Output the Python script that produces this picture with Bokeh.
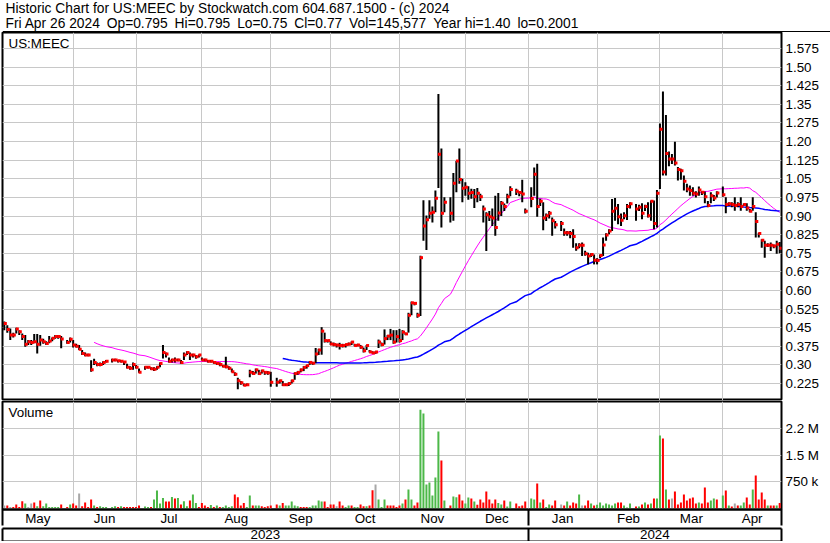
import numpy as np
import pandas as pd
from bokeh.plotting import figure
from bokeh.layouts import column
from bokeh.models import (Range1d, FixedTicker, LinearAxis, Label, Span,
                          NumeralTickFormatter, ColumnDataSource)
from bokeh.embed import file_html
from bokeh.resources import INLINE

FONT = "Liberation Sans"

# ---------------- data ----------------
start_date = "2023-05-01"
end_date = "2024-04-26"
month_names = ["May", "Jun", "Jul", "Aug", "Sep", "Oct", "Nov", "Dec",
               "Jan", "Feb", "Mar", "Apr"]
year_names = ["2023", "2024"]
header1 = "Historic Chart for US:MEEC by Stockwatch.com 604.687.1500 - (c) 2024"
header2 = ("Fri Apr 26 2024\u2002Op=0.795\u2002Hi=0.795\u2002Lo=0.75\u2002Cl=0.77\u2002"
           "Vol=145,577\u2002Year hi=1.40\u2002lo=0.2001")

close = [
    0.467, 0.443, 0.42, 0.42, 0.445, 0.434, 0.414, 0.383, 0.393, 0.39,
    0.393, 0.383, 0.40, 0.393, 0.386, 0.396, 0.407, 0.414, 0.414, 0.404,
    None, 0.39, 0.403, 0.38, 0.375, 0.363, 0.346, 0.34, 0.34, 0.28,
    0.31, 0.302, 0.302, 0.31, 0.315, None, 0.32, 0.32, 0.317, 0.315,
    0.312, 0.29, 0.286, 0.302, 0.29, 0.27, None, 0.29, 0.29, 0.284,
    0.282, 0.29, 0.306, 0.35, 0.344, 0.315, 0.32, 0.32, 0.32, 0.31,
    0.34, 0.35, 0.34, 0.34, 0.333, 0.34, 0.32, 0.32, 0.315, 0.315,
    0.31, 0.306, 0.302, 0.295, 0.293, 0.286, 0.272, 0.262, 0.236, 0.228,
    0.218, 0.22, 0.27, 0.265, 0.28, 0.265, 0.276, 0.27, 0.268, 0.23,
    None, 0.23, 0.236, 0.22, 0.22, 0.225, 0.236, 0.265, 0.27, 0.28,
    0.29, 0.297, 0.31, 0.307, 0.344, 0.36, 0.436, 0.398, 0.398, 0.384,
    0.382, 0.38, 0.378, 0.378, 0.382, 0.384, 0.392, 0.378, 0.38, 0.371,
    0.357, 0.378, 0.352, 0.348, 0.352, 0.392, 0.382, 0.406, 0.416, 0.42,
    0.392, 0.414, 0.398, 0.432, 0.425, 0.50, 0.55, 0.548, 0.50, 0.732,
    0.86, 0.885, 0.911, 0.915, 0.972, 1.149, 0.911, 0.955, None, 0.911,
    1.032, 1.122, 1.047, 1.012, 1.016, 0.992, 0.995, 0.978, 0.992, 0.978,
    0.928, 0.905, 0.897, 0.892, 0.854, 0.912, 0.951, 0.938, 0.978, 1.007,
    None, 1.0, 0.995, 0.989, 0.919, None, 0.971, 1.068, 0.938, 0.959,
    0.892, 0.901, 0.911, 0.881, 0.865, None, 0.87, 0.833, 0.833, 0.829,
    0.817, 0.772, 0.782, 0.782, 0.748, 0.739, 0.745, 0.722, 0.721, 0.741,
    0.783, 0.823, 0.84, 0.919, 0.931, 0.897, 0.883, 0.901, 0.938, 0.949,
    None, 0.928, 0.935, 0.911, 0.938, 0.901, 0.959, 0.87, 0.992, 1.25,
    1.077, 1.152, 1.13, 1.13, 1.114, 1.087, 1.082, 1.04, 1.009, 1.003,
    0.992, 0.989, 1.005, 0.996, 0.978, 0.942, 0.982, 0.973, 0.993, None,
    0.986, 0.946, 0.949, 0.946, 0.942, 0.946, 0.938, 0.946, 0.932, 0.919,
    0.938, 0.878, 0.829, 0.802, 0.782, 0.782, 0.782, 0.779, 0.786, 0.77,
]

high = [
    0.475, 0.46, 0.447, 0.43, 0.45, 0.44, 0.427, 0.42, 0.40, 0.40,
    0.424, 0.424, 0.42, 0.405, 0.395, 0.416, 0.41, 0.42, 0.42, 0.416,
    None, 0.40, 0.41, 0.40, 0.385, 0.38, 0.36, 0.35, 0.345, 0.319,
    0.325, 0.31, 0.31, 0.315, 0.32, None, 0.325, 0.325, 0.32, 0.32,
    0.315, 0.305, 0.295, 0.31, 0.30, 0.285, None, 0.295, 0.295, 0.29,
    0.29, 0.295, 0.31, 0.38, 0.35, 0.33, 0.325, 0.33, 0.325, 0.32,
    0.35, 0.355, 0.35, 0.345, 0.34, 0.342, 0.33, 0.325, 0.32, 0.32,
    0.315, 0.31, 0.31, 0.30, 0.333, 0.295, 0.285, 0.27, 0.248, 0.235,
    0.225, 0.225, 0.28, 0.275, 0.285, 0.28, 0.28, 0.275, 0.275, 0.272,
    None, 0.248, 0.24, 0.235, 0.225, 0.23, 0.24, 0.27, 0.275, 0.285,
    0.295, 0.30, 0.315, 0.31, 0.368, 0.365, 0.452, 0.43, 0.40, 0.395,
    0.39, 0.385, 0.389, 0.385, 0.385, 0.39, 0.395, 0.385, 0.385, 0.38,
    0.37, 0.38, 0.36, 0.355, 0.355, 0.402, 0.39, 0.443, 0.42, 0.445,
    0.44, 0.44, 0.445, 0.44, 0.43, 0.51, 0.555, 0.55, 0.51, 0.74,
    0.963, 0.902, 0.963, 0.938, 1.003, 1.392, 1.172, 0.976, None, 0.976,
    1.073, 1.122, 1.172, 1.05, 1.036, 1.02, 1.01, 1.009, 1.013, 0.99,
    0.942, 0.915, 0.92, 0.93, 0.982, 0.993, 0.96, 0.95, 0.99, 1.02,
    None, 1.01, 1.0, 1.046, 0.93, None, 1.016, 1.095, 1.111, 0.97,
    0.955, 0.91, 0.92, 0.894, 0.88, None, 0.88, 0.85, 0.84, 0.84,
    0.847, 0.79, 0.79, 0.793, 0.76, 0.752, 0.75, 0.745, 0.73, 0.745,
    0.813, 0.83, 0.847, 0.969, 0.973, 0.948, 0.91, 0.915, 0.948, 0.955,
    None, 0.948, 0.945, 0.951, 0.945, 0.955, 0.962, 0.962, 1.005, 1.273,
    1.402, 1.307, 1.16, 1.15, 1.199, 1.097, 1.09, 1.063, 1.03, 1.023,
    1.016, 1.0, 1.019, 1.0, 0.999, 0.96, 0.996, 0.985, 1.0, None,
    1.019, 0.976, 0.955, 0.955, 0.976, 0.955, 0.976, 0.95, 0.951, 0.928,
    0.976, 0.915, 0.833, 0.806, 0.80, 0.79, 0.793, 0.785, 0.80, 0.795,
]

low = [
    0.44, 0.43, 0.40, 0.41, 0.427, 0.42, 0.40, 0.373, 0.38, 0.38,
    0.387, 0.346, 0.377, 0.385, 0.38, 0.387, 0.395, 0.405, 0.405, 0.367,
    None, 0.385, 0.39, 0.37, 0.37, 0.36, 0.34, 0.335, 0.335, 0.272,
    0.30, 0.295, 0.295, 0.30, 0.31, None, 0.31, 0.315, 0.31, 0.31,
    0.30, 0.285, 0.28, 0.28, 0.285, 0.268, None, 0.28, 0.285, 0.28,
    0.275, 0.28, 0.29, 0.326, 0.33, 0.31, 0.31, 0.31, 0.315, 0.305,
    0.32, 0.34, 0.32, 0.33, 0.325, 0.33, 0.318, 0.315, 0.31, 0.31,
    0.305, 0.30, 0.295, 0.29, 0.286, 0.28, 0.27, 0.255, 0.202, 0.22,
    0.215, 0.215, 0.25, 0.26, 0.265, 0.26, 0.265, 0.26, 0.26, 0.212,
    None, 0.212, 0.225, 0.215, 0.215, 0.215, 0.225, 0.24, 0.26, 0.27,
    0.275, 0.285, 0.30, 0.30, 0.307, 0.34, 0.341, 0.39, 0.39, 0.38,
    0.375, 0.37, 0.362, 0.37, 0.37, 0.378, 0.38, 0.375, 0.375, 0.365,
    0.35, 0.36, 0.35, 0.345, 0.345, 0.368, 0.375, 0.382, 0.40, 0.40,
    0.385, 0.39, 0.39, 0.40, 0.42, 0.43, 0.50, 0.54, 0.49, 0.497,
    0.80, 0.763, 0.889, 0.874, 0.915, 1.013, 0.854, 0.915, None, 0.874,
    0.881, 0.996, 1.03, 0.955, 0.982, 0.965, 0.97, 0.932, 0.955, 0.96,
    0.874, 0.759, 0.88, 0.86, 0.82, 0.881, 0.90, 0.92, 0.95, 0.98,
    None, 0.985, 0.98, 0.955, 0.91, None, 0.935, 0.982, 0.897, 0.94,
    0.843, 0.88, 0.89, 0.82, 0.85, None, 0.84, 0.82, 0.82, 0.81,
    0.772, 0.76, 0.77, 0.739, 0.74, 0.705, 0.735, 0.705, 0.705, 0.73,
    0.739, 0.80, 0.826, 0.84, 0.881, 0.867, 0.86, 0.887, 0.884, 0.93,
    None, 0.881, 0.92, 0.887, 0.92, 0.894, 0.881, 0.847, 0.854, 1.009,
    1.063, 1.063, 1.10, 1.11, 1.104, 1.043, 1.046, 1.003, 0.996, 0.982,
    0.982, 0.975, 0.982, 0.985, 0.951, 0.935, 0.951, 0.96, 0.975, None,
    0.978, 0.911, 0.94, 0.935, 0.921, 0.935, 0.921, 0.94, 0.921, 0.915,
    0.921, 0.813, 0.813, 0.772, 0.732, 0.775, 0.759, 0.77, 0.748, 0.75,
]

# volume in thousands of shares
volume_k = [
    75, 75, 38, 38, 104, 38, 198, 132, 38, 132,
    160, 57, 217, 57, 132, 38, 38, 38, 38, 104,
    None, 38, 104, 132, 75, 415, 57, 160, 38, 245,
    75, 38, 57, 38, 38, None, 38, 57, 38, 57,
    38, 38, 38, 38, 38, 75, None, 47, 38, 38,
    245, 500, 132, 292, 189, 189, 320, 273, 292, 104,
    198, 57, 217, 387, 150, 38, 150, 75, 38, 94,
    38, 75, 38, 38, 75, 38, 57, 387, 311, 75,
    150, 38, 358, 75, 75, 75, 57, 38, 57, 75,
    None, 104, 75, 150, 75, 75, 189, 75, 57, 38,
    38, 38, 38, 75, 75, 217, 189, 189, 38, 104,
    104, 57, 189, 75, 38, 75, 75, 38, 38, 104,
    57, 57, 75, 510, 670, 245, 38, 245, 75, 75,
    75, 38, 75, 132, 245, 528, 245, 75, 160, 2790,
    2680, 670, 726, 358, 868, 2170, 1350, 217, None, 75,
    330, 311, 387, 217, 132, 302, 273, 189, 100, 245,
    160, 472, 245, 132, 245, 150, 104, 217, 47, 189,
    None, 132, 57, 75, 189, None, 273, 245, 698, 160,
    245, 38, 104, 75, 217, None, 104, 75, 189, 75,
    160, 132, 387, 75, 75, 217, 132, 75, 100, 160,
    75, 132, 104, 75, 132, 160, 160, 75, 19, 132,
    None, 47, 47, 104, 160, 104, 132, 273, 273, 2056,
    1971, 528, 245, 273, 472, 104, 160, 387, 217, 273,
    302, 132, 160, 132, 585, 160, 217, 273, 245, None,
    358, 500, 75, 47, 132, 75, 75, 160, 302, 104,
    528, 924, 245, 443, 245, 75, 75, 75, 75, 146,
]

# g = up day, r = down day, n = unchanged, - = holiday
vol_dir = list(
    "nrnrrrrgnn" "rgrggggggr" "-rgrrnrrrr" "grggg-ggrg" "rrrrrr-ggr"
    "ggggrrgrgr" "ggrggrrrrg" "rgrggggrrr" "rggrggrrrr" "-rgrgggggr"
    "rrgggggrrr" "rnrrggrggr" "rgrrngggrr" "rrrgrggrrg" "ggggggrg-r"
    "ggrrggrgrr" "rrrrrggrgg" "-rrrr-ggrg" "rggrr-nrgr" "rrgnrrgrgg"
    "gggggrrggg" "-rgrgrgrgg" "rgrnrrrrrr" "rrgrrrggr-" "grgrnrggrr"
    "grrrrgrrgr"
)

price_ticks = [0.225, 0.30, 0.375, 0.45, 0.525, 0.60, 0.675, 0.75, 0.825,
               0.90, 0.975, 1.05, 1.125, 1.20, 1.275, 1.35, 1.425, 1.50, 1.575]
vol_ticks = [750, 1500, 2250]
vol_tick_labels = ["750 k", "1.5 M", "2.2 M"]
ma_short, ma_long = 30, 90

# ---------------- derived positions ----------------
dates = pd.bdate_range(start_date, end_date)
n = len(dates)
idx = np.arange(n)
df = pd.DataFrame({"i": idx, "close": close, "high": high, "low": low,
                   "vol": volume_k, "dir": vol_dir}, dtype=object)
df = df[df["close"].notna()].copy()
for c in ["close", "high", "low", "vol"]:
    df[c] = df[c].astype(float)
df["i"] = df["i"].astype(float)
colors = {"g": "#4cb848", "r": "#ff0000", "n": "#a8a8a8"}
df["color"] = df["dir"].map(colors)
df["ma_s"] = df["close"].rolling(ma_short).mean()
df["ma_l"] = df["close"].rolling(ma_long).mean()
df["it"] = df["i"] + 0.35

x0, x1 = -0.6, n - 0.4
start_np = np.datetime64(start_date)
grid_pos = []
for d in pd.date_range(dates[0] + pd.offsets.MonthBegin(1), dates[-1], freq="MS"):
    rolled = np.busday_offset(np.datetime64(d.date()), 0, roll="backward")
    grid_pos.append(float(np.busday_count(start_np, rolled)))
bounds = [x0] + grid_pos + [x1]
month_centers = [(bounds[k] + bounds[k + 1]) / 2 for k in range(len(bounds) - 1)]
jan_pos = grid_pos[month_names.index("Jan") - 1]
year_centers = [(x0 + jan_pos) / 2, (jan_pos + x1) / 2]

src = ColumnDataSource(df)
ma_s_src = ColumnDataSource(df[df["ma_s"].notna()])
ma_l_src = ColumnDataSource(df[df["ma_l"].notna()])

FW = 779
FHP = 368
FHV = 108
HEAD = 32
GRID = "#c8c8c8"
FS = "13.4px"
FS_HEAD = "13.8px"
xr = Range1d(x0, x1)


def style_right_axis(ax):
    ax.axis_line_color = None
    ax.major_tick_line_color = None
    ax.minor_tick_line_color = None
    ax.major_tick_out = 0
    ax.major_tick_in = 0
    ax.minor_tick_out = 0
    ax.minor_tick_in = 0
    ax.major_label_standoff = 4
    ax.major_label_text_font = FONT
    ax.major_label_text_font_size = FS
    ax.major_label_text_color = "black"


# ---------------- header ----------------
h = figure(frame_width=830, frame_height=HEAD, x_range=Range1d(0, 1),
           y_range=Range1d(0, HEAD), output_backend="svg", toolbar_location=None,
           x_axis_location=None, y_axis_location=None, min_border=0,
           outline_line_color=None, background_fill_color="white",
           border_fill_color="white")
h.grid.visible = False
h.add_layout(Span(location=0.5, dimension="width", line_color="black",
                  line_width=2))
for txt, ytop in [(header1, HEAD), (header2, HEAD - 15)]:
    h.add_layout(Label(x=3, y=ytop, x_units="screen", y_units="screen",
                       text=txt, text_baseline="top", text_font=FONT,
                       text_font_size=FS_HEAD, text_color="black"))

# ---------------- price panel ----------------
p = figure(frame_width=FW, frame_height=FHP, x_range=xr,
           y_range=Range1d(0.1565, 1.6395), output_backend="svg",
           toolbar_location=None, x_axis_location=None, y_axis_location="right",
           min_border_left=2, min_border_right=49, min_border_top=0,
           min_border_bottom=0, background_fill_color="white",
           border_fill_color="white")
p.outline_line_color = "black"
p.outline_line_width = 2
p.xgrid.ticker = FixedTicker(ticks=grid_pos)
p.xgrid.grid_line_color = GRID
p.ygrid.grid_line_color = GRID
ya = p.yaxis[0]
ya.ticker = FixedTicker(ticks=price_ticks)
ya.formatter = NumeralTickFormatter(format="0.00[0]")
style_right_axis(ya)

p.line("i", "ma_s", source=ma_s_src, line_color="#ff00ff", line_width=1)
p.line("i", "ma_l", source=ma_l_src, line_color="#0000ff", line_width=1.5)
p.segment(x0="i", y0="low", x1="i", y1="high", source=src,
          line_color="black", line_width=2)
p.rect(x="it", y="close", width=3, height=3, width_units="screen",
       height_units="screen", source=src, fill_color="#ff0000", line_color=None)
p.add_layout(Label(x=6, y=FHP - 3, x_units="screen", y_units="screen",
                   text="US:MEEC", text_baseline="top", text_font=FONT,
                   text_font_size=FS, text_color="black"))

# ---------------- volume panel ----------------
v = figure(frame_width=FW, frame_height=FHV, x_range=xr,
           y_range=Range1d(-35, 3020), output_backend="svg",
           toolbar_location=None, x_axis_location=None, y_axis_location="right",
           min_border_left=2, min_border_right=49, min_border_top=1,
           min_border_bottom=0, background_fill_color="white",
           border_fill_color="white")
v.outline_line_color = "black"
v.outline_line_width = 2
v.xgrid.ticker = FixedTicker(ticks=grid_pos)
v.xgrid.grid_line_color = GRID
v.ygrid.grid_line_color = GRID
vy = v.yaxis[0]
vy.ticker = FixedTicker(ticks=vol_ticks)
vy.major_label_overrides = dict(zip(vol_ticks, vol_tick_labels))
style_right_axis(vy)
v.vbar(x="i", top="vol", bottom=0, width=0.67, source=src,
       fill_color="color", line_color=None)
v.add_layout(Label(x=6, y=FHV - 3, x_units="screen", y_units="screen",
                   text="Volume", text_baseline="top", text_font=FONT,
                   text_font_size=FS, text_color="black"))


def row_axis(ticks, labels):
    ax = LinearAxis(ticker=FixedTicker(ticks=ticks, minor_ticks=[x0, jan_pos, x1]))
    ax.major_label_overrides = dict(zip(ticks, labels))
    ax.major_tick_out = 0
    ax.major_tick_in = 0
    ax.major_tick_line_color = None
    ax.minor_tick_in = 0
    ax.minor_tick_out = 16
    ax.minor_tick_line_color = "black"
    ax.minor_tick_line_width = 2
    ax.axis_line_color = "black"
    ax.axis_line_width = 2
    ax.major_label_standoff = -15
    ax.major_label_text_font = FONT
    ax.major_label_text_font_size = FS
    ax.major_label_text_color = "black"
    return ax


v.add_layout(row_axis(month_centers, month_names), "below")
v.add_layout(row_axis(year_centers, year_names), "below")
bottom_ax = LinearAxis(ticker=FixedTicker(ticks=[]))
bottom_ax.major_tick_out = 0
bottom_ax.major_tick_in = 0
bottom_ax.major_label_standoff = 0
bottom_ax.axis_line_color = "black"
bottom_ax.axis_line_width = 2
bottom_ax.major_label_text_font_size = "0px"
v.add_layout(bottom_ax, "below")

layout = column(h, p, v, spacing=0)
open("out.html", "w").write(file_html(layout, INLINE))
